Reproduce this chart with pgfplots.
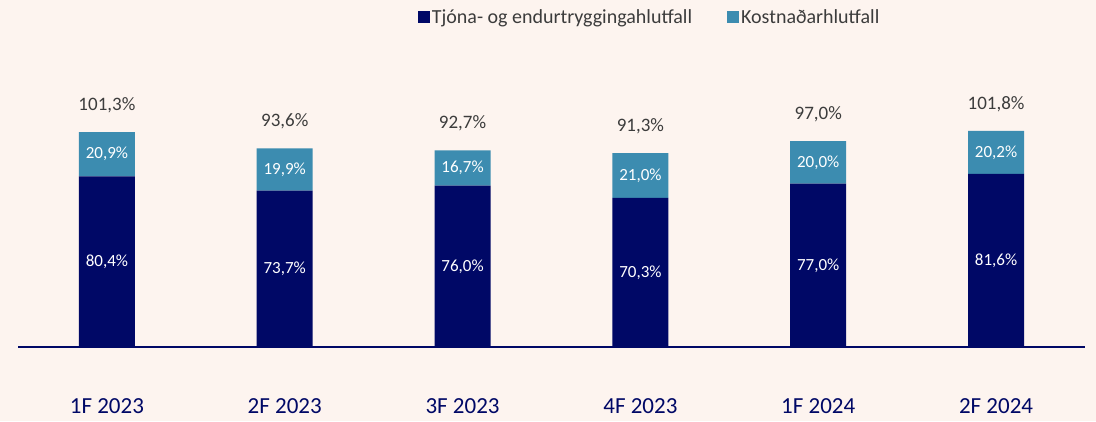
\documentclass[border=0pt]{standalone}
\usepackage{pgfplots}
\pgfplotsset{compat=1.18}
\usepackage{fontspec}
\setmainfont{Carlito}
\definecolor{bg}{HTML}{FDF4EF}
\definecolor{navy}{RGB}{0,8,102}
\definecolor{steel}{RGB}{60,140,176}
\definecolor{txt}{HTML}{3C3C3C}
\pgfplotsset{base/.style={
  scale only axis,
  width=1067pt, height=347pt,
  xmin=-0.5, xmax=5.5, ymin=0, ymax=163.5,
}}
\begin{document}
\begin{tikzpicture}
\fill[bg] (-18pt,-74pt) rectangle (1078pt,347pt);
\useasboundingbox (-18pt,-74pt) rectangle (1078pt,347pt);
\begin{axis}[
  base,
  axis x line*=bottom, axis y line=none,
  axis line style={navy, line width=1.6pt, -},
  ybar stacked, bar width=56pt,
  xtick=data,
  xticklabels={1F 2023,2F 2023,3F 2023,4F 2023,1F 2024,2F 2024},
  xtick style={draw=none},
  xticklabel style={font=\fontsize{23}{27}\selectfont, text=navy, yshift=-48pt},
  ytick=\empty,
  legend columns=2,
  legend style={draw=none, fill=none, at={(0.592,0.951)}, anchor=center,
    font=\fontsize{20}{24}\selectfont, text=txt,
    /tikz/every even column/.append style={column sep=33pt}},
  legend image code/.code={\fill[#1] (0pt,-6pt) rectangle (12pt,6pt);},
]
\addplot[fill=navy, draw=none]
coordinates {(0,80.4) (1,73.7) (2,76.0) (3,70.3) (4,77.0) (5,81.6)};
\addplot[fill=steel, draw=none]
coordinates {(0,20.9) (1,19.9) (2,16.7) (3,21.0) (4,20.0) (5,20.2)};
\legend{Tjóna- og endurtryggingahlutfall, Kostnaðarhlutfall}
\end{axis}
\begin{axis}[
  base, hide axis,
  point meta=explicit symbolic,
]
% totals above the bars
\addplot[only marks, mark=none, nodes near coords,
  every node near coord/.style={anchor=center, text=txt, font=\fontsize{19}{23}\selectfont, yshift=27pt}]
coordinates {(0,101.3) [101,3\%] (1,93.6) [93,6\%] (2,92.7) [92,7\%] (3,91.3) [91,3\%] (4,97.0) [97,0\%] (5,101.8) [101,8\%]};
% labels centred in the navy segments
\addplot[only marks, mark=none, nodes near coords,
  every node near coord/.style={anchor=center, text=white, font=\fontsize{17}{20}\selectfont}]
coordinates {(0,40.2) [80,4\%] (1,36.85) [73,7\%] (2,38.0) [76,0\%] (3,35.15) [70,3\%] (4,38.5) [77,0\%] (5,40.8) [81,6\%]};
% labels centred in the light blue segments
\addplot[only marks, mark=none, nodes near coords,
  every node near coord/.style={anchor=center, text=white, font=\fontsize{17}{20}\selectfont}]
coordinates {(0,90.85) [20,9\%] (1,83.65) [19,9\%] (2,84.35) [16,7\%] (3,80.8) [21,0\%] (4,87.0) [20,0\%] (5,91.7) [20,2\%]};
\end{axis}
\end{tikzpicture}
\end{document}
